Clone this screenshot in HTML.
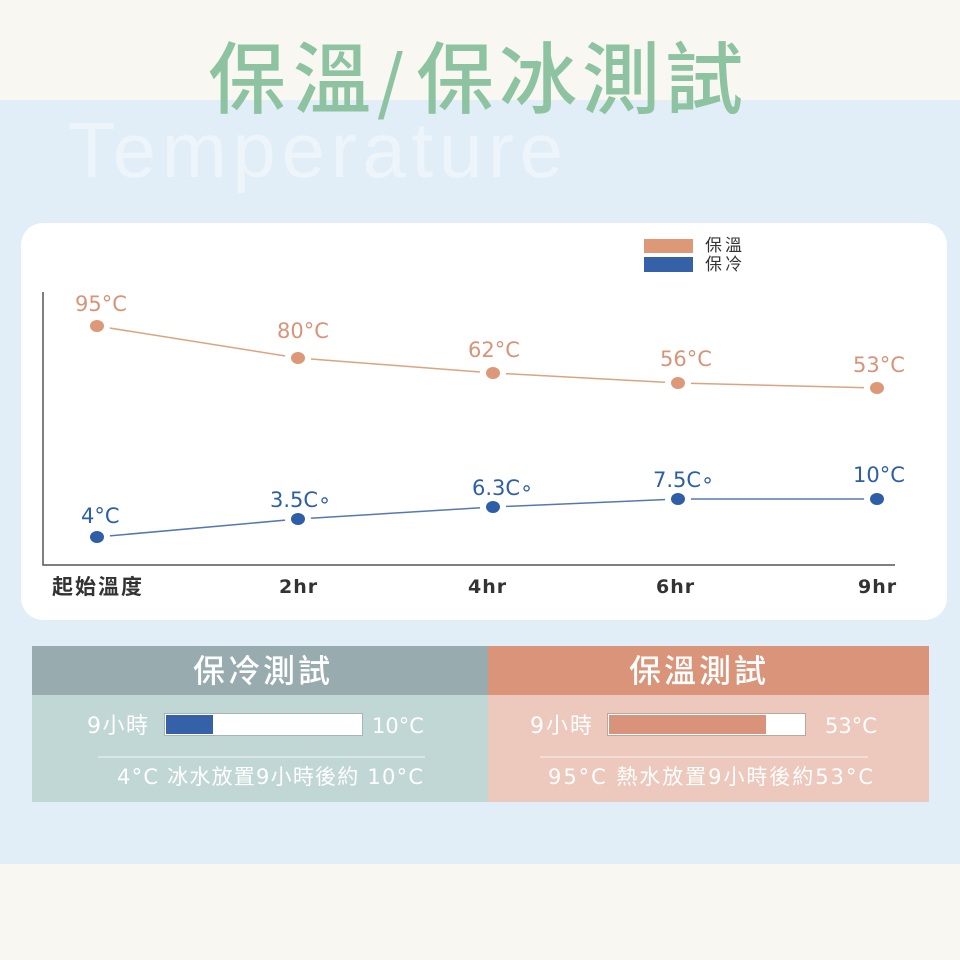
<!DOCTYPE html>
<html><head><meta charset="utf-8">
<style>
html,body{margin:0;padding:0;width:960px;height:960px;overflow:hidden;background:#f8f7f2;}
svg{display:block;}
.n{font-family:"DejaVu Sans","Noto Sans CJK TC",sans-serif;}
.c{font-family:"Noto Sans CJK TC","DejaVu Sans",sans-serif;}
</style></head>
<body>
<svg width="960" height="960" viewBox="0 0 960 960" xmlns="http://www.w3.org/2000/svg">
  <rect x="0" y="0" width="960" height="960" fill="#f8f7f2"/>
  <rect x="0" y="100" width="960" height="764" fill="#e1eef7"/>

  <!-- Temperature watermark -->
  <text x="68" y="177" font-family="Liberation Sans, sans-serif" font-size="78" letter-spacing="5" fill="#edf4fa" textLength="500" lengthAdjust="spacing">Temperature</text>

  <!-- Title -->
  <text class="c" y="107" font-size="78" fill="#8dc3a0" font-weight="500"><tspan x="208">保</tspan><tspan x="293">溫</tspan><tspan x="377" font-size="70">/</tspan><tspan x="416">保</tspan><tspan x="499">冰</tspan><tspan x="582">測</tspan><tspan x="665">試</tspan></text>

  <!-- Card -->
  <rect x="21" y="223" width="926" height="397" rx="22" ry="22" fill="#ffffff"/>

  <!-- Legend -->
  <rect x="644" y="239" width="49" height="14" fill="#dd9878"/>
  <rect x="644" y="257" width="49" height="15" fill="#3461a8"/>
  <text class="c" x="705" y="251" font-size="17" letter-spacing="3" fill="#333">保溫</text>
  <text class="c" x="705" y="270" font-size="17" letter-spacing="3" fill="#333">保冷</text>

  <!-- Axes -->
  <path d="M43,292 V565 H895" fill="none" stroke="#555" stroke-width="1.5"/>

  <!-- Lines -->
  <polyline points="97,326 298,358 493,373 678,383 877,388" fill="none" stroke="#dca47e" stroke-width="1.5"/>
  <polyline points="97,537 298,519 493,507 678,499 877,499" fill="none" stroke="#5578b0" stroke-width="1.5"/>

  <!-- halos -->
  <g fill="#ffffff">
    <circle cx="97" cy="326" r="13"/><circle cx="298" cy="358" r="13"/><circle cx="493" cy="373" r="13"/><circle cx="678" cy="383" r="13"/><circle cx="877" cy="388" r="13"/>
    <circle cx="97" cy="537" r="13"/><circle cx="298" cy="519" r="13"/><circle cx="493" cy="507" r="13"/><circle cx="678" cy="499" r="13"/><circle cx="877" cy="499" r="13"/>
  </g>
  <!-- dots -->
  <g fill="#dd9878">
    <ellipse cx="97" cy="326" rx="7" ry="6"/><ellipse cx="298" cy="358" rx="7" ry="6"/><ellipse cx="493" cy="373" rx="7" ry="6"/><ellipse cx="678" cy="383" rx="7" ry="6"/><ellipse cx="877" cy="388" rx="7" ry="6"/>
  </g>
  <g fill="#2f5ea8">
    <ellipse cx="97" cy="537" rx="7" ry="6"/><ellipse cx="298" cy="519" rx="7" ry="6"/><ellipse cx="493" cy="507" rx="7" ry="6"/><ellipse cx="678" cy="499" rx="7" ry="6"/><ellipse cx="877" cy="499" rx="7" ry="6"/>
  </g>

  <!-- Orange labels -->
  <g class="n" font-size="21" fill="#d99378">
    <text x="75" y="311">95°C</text>
    <text x="277" y="338">80°C</text>
    <text x="468" y="357">62°C</text>
    <text x="660" y="366">56°C</text>
    <text x="853" y="372">53°C</text>
  </g>
  <!-- Blue labels -->
  <g class="n" font-size="21" fill="#2f5ea8">
    <text x="81" y="523">4°C</text>
    <text x="270" y="507">3.5C∘</text>
    <text x="472" y="495">6.3C∘</text>
    <text x="653" y="487">7.5C∘</text>
    <text x="853" y="482">10°C</text>
  </g>

  <!-- X labels -->
  <g font-weight="bold" fill="#333">
    <text class="c" x="52" y="594" font-size="21" letter-spacing="2">起始溫度</text>
    <text class="n" x="279" y="593" font-size="19" letter-spacing="1">2hr</text>
    <text class="n" x="468" y="593" font-size="19" letter-spacing="1">4hr</text>
    <text class="n" x="656" y="593" font-size="19" letter-spacing="1">6hr</text>
    <text class="n" x="858" y="593" font-size="19" letter-spacing="1">9hr</text>
  </g>

  <!-- Bottom panels -->
  <rect x="32" y="646" width="456" height="49" fill="#98acb0"/>
  <rect x="32" y="695" width="456" height="107" fill="#c1d7d5"/>
  <rect x="488" y="646" width="441" height="49" fill="#d9947a"/>
  <rect x="488" y="695" width="441" height="107" fill="#ecc8bd"/>

  <text class="c" x="263" y="682" font-size="32" fill="#ffffff" text-anchor="middle" font-weight="500" letter-spacing="3">保冷測試</text>
  <text class="c" x="699" y="682" font-size="32" fill="#ffffff" text-anchor="middle" font-weight="500" letter-spacing="3">保溫測試</text>

  <!-- bars -->
  <rect x="164.5" y="713.5" width="198" height="22" fill="#ffffff" stroke="#a9b4b6" stroke-width="1"/>
  <rect x="166" y="715" width="47" height="19" fill="#3461a8"/>
  <rect x="607.5" y="713.5" width="198" height="22" fill="#ffffff" stroke="#b8a8a2" stroke-width="1"/>
  <rect x="609" y="715" width="157" height="19" fill="#d9937a"/>

  <g class="n" font-size="21" fill="#ffffff">
    <text x="87" y="733" font-size="22" textLength="61" lengthAdjust="spacing">9小時</text>
    <text x="372" y="733">10°C</text>
    <text x="530" y="733" font-size="22" textLength="62" lengthAdjust="spacing">9小時</text>
    <text x="825" y="733">53°C</text>
  </g>

  <line x1="98" y1="757" x2="425" y2="757" stroke="#ffffff" stroke-opacity="0.75" stroke-width="1"/>
  <line x1="540" y1="757" x2="868" y2="757" stroke="#ffffff" stroke-opacity="0.75" stroke-width="1"/>

  <g class="n" font-size="21" fill="#ffffff">
    <text x="117" y="784" textLength="306" lengthAdjust="spacing">4°C 冰水放置9小時後約 10°C</text>
    <text x="548" y="784" textLength="325" lengthAdjust="spacing">95°C  熱水放置9小時後約53°C</text>
  </g>
</svg>
</body></html>
